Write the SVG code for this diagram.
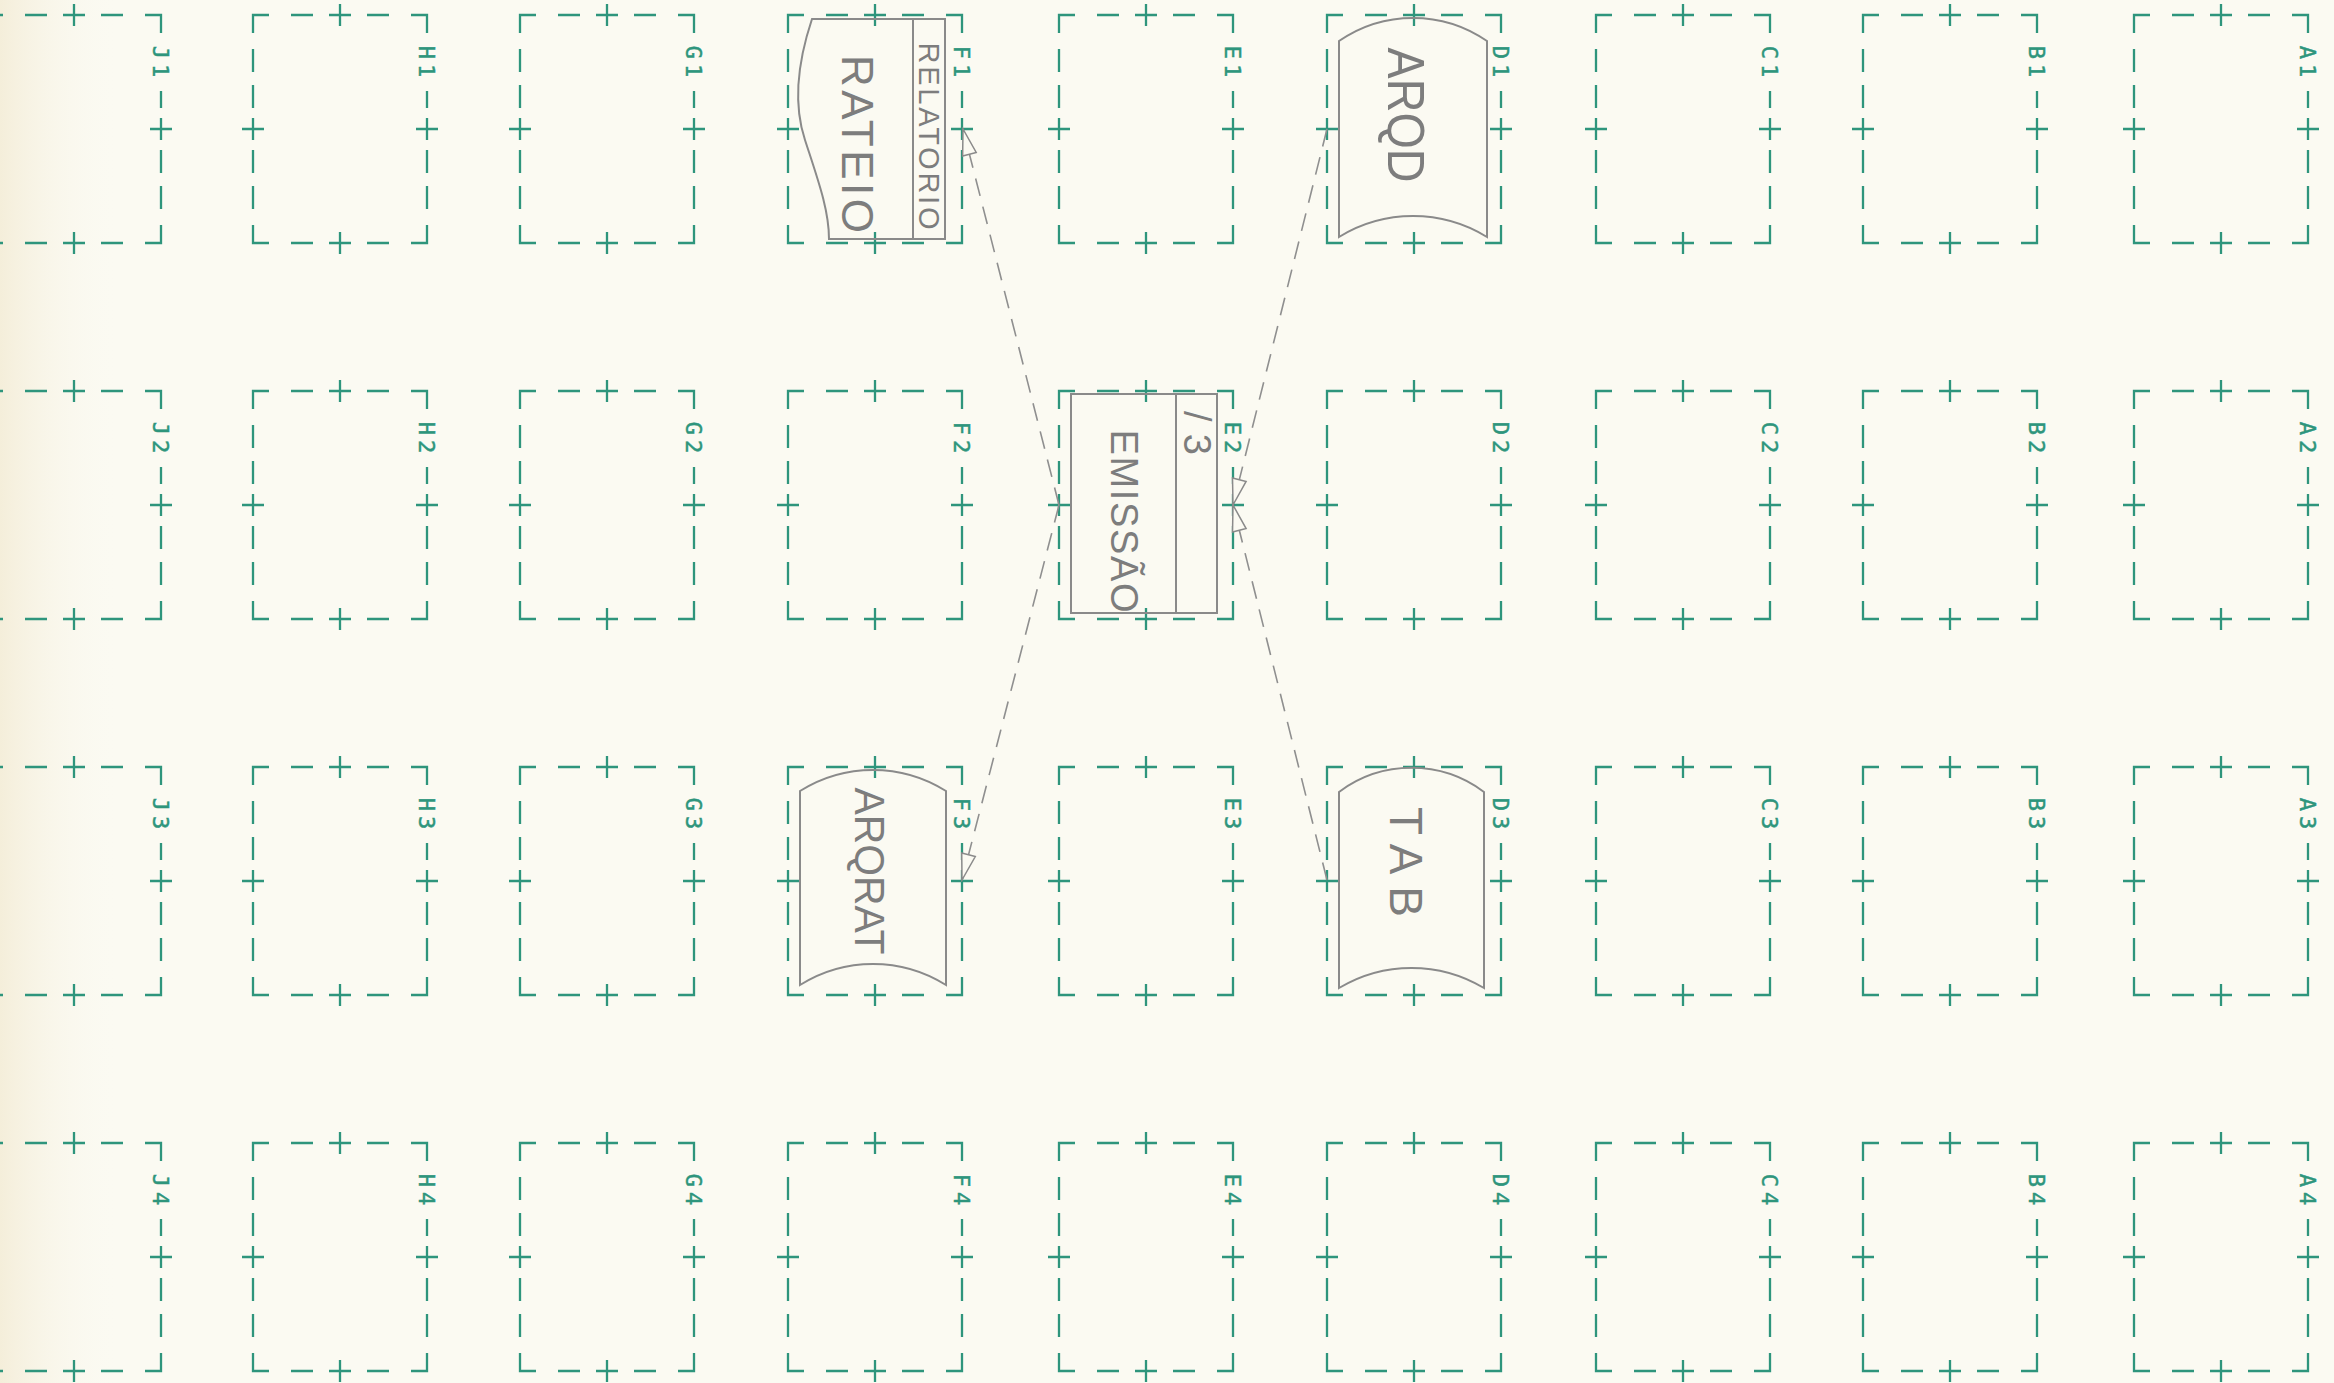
<svg xmlns="http://www.w3.org/2000/svg" xmlns:xlink="http://www.w3.org/1999/xlink" width="2334" height="1383" viewBox="0 0 2334 1383">
<style>
.fr{fill:none;stroke:#2e957c;stroke-width:2.3}
.lbl{font-family:"DejaVu Sans Mono","Liberation Mono",monospace;font-size:22px;fill:#2e957c;stroke:#2e957c;stroke-width:0.5;text-anchor:middle;letter-spacing:5px}
.pen{fill:none;stroke:#8a8a8a;stroke-width:2}
.ptx{font-family:"Liberation Sans","DejaVu Sans",sans-serif;fill:#7d7d7d;text-anchor:middle}
.con{fill:none;stroke:#8f8f8f;stroke-width:1.6;stroke-dasharray:18 11;marker-end:url(#ah)}
</style>
<defs>
<linearGradient id="stain" x1="0" y1="0" x2="1" y2="0">
<stop offset="0" stop-color="#efe4c6" stop-opacity="0.55"/>
<stop offset="1" stop-color="#fbfaf2" stop-opacity="0"/>
</linearGradient>
<path id="fr" class="fr" d="M0,18V0H16 M38,0H60 M76,0H98 M87,-11V11 M114,0H136 M158,0H174V18 M0,34V57 M0,70V93 M0,103V125 M-11,114H11 M0,135V158 M0,171V194 M0,210V228H16 M38,228H60 M76,228H98 M87,217V239 M114,228H136 M158,228H174V210 M174,76V93 M174,103V125 M163,114H185 M174,135V158 M174,171V194"/>
<marker id="ah" markerUnits="userSpaceOnUse" viewBox="-29 -10 31 20" markerWidth="31" markerHeight="20" refX="0" refY="0" orient="auto">
<path d="M0,0 L-26,-7 L-26,7 Z" fill="#fbfaf2" stroke="#8a8a8a" stroke-width="1.5"/>
</marker>
</defs>
<rect x="0" y="0" width="2334" height="1383" fill="#fbfaf2"/>
<rect x="0" y="0" width="120" height="1383" fill="url(#stain)"/>

<g id="grid">
<g id="J1" transform="translate(-13,15)"><use href="#fr"/><text class="lbl" transform="translate(174,47) rotate(90)" x="2" y="8">J1</text></g>
<g id="H1" transform="translate(253,15)"><use href="#fr"/><text class="lbl" transform="translate(174,47) rotate(90)" x="2" y="8">H1</text></g>
<g id="G1" transform="translate(520,15)"><use href="#fr"/><text class="lbl" transform="translate(174,47) rotate(90)" x="2" y="8">G1</text></g>
<g id="F1" transform="translate(788,15)"><use href="#fr"/><text class="lbl" transform="translate(174,47) rotate(90)" x="2" y="8">F1</text></g>
<g id="E1" transform="translate(1059,15)"><use href="#fr"/><text class="lbl" transform="translate(174,47) rotate(90)" x="2" y="8">E1</text></g>
<g id="D1" transform="translate(1327,15)"><use href="#fr"/><text class="lbl" transform="translate(174,47) rotate(90)" x="2" y="8">D1</text></g>
<g id="C1" transform="translate(1596,15)"><use href="#fr"/><text class="lbl" transform="translate(174,47) rotate(90)" x="2" y="8">C1</text></g>
<g id="B1" transform="translate(1863,15)"><use href="#fr"/><text class="lbl" transform="translate(174,47) rotate(90)" x="2" y="8">B1</text></g>
<g id="A1" transform="translate(2134,15)"><use href="#fr"/><text class="lbl" transform="translate(174,47) rotate(90)" x="2" y="8">A1</text></g>

<g id="J2" transform="translate(-13,391)"><use href="#fr"/><text class="lbl" transform="translate(174,47) rotate(90)" x="2" y="8">J2</text></g>
<g id="H2" transform="translate(253,391)"><use href="#fr"/><text class="lbl" transform="translate(174,47) rotate(90)" x="2" y="8">H2</text></g>
<g id="G2" transform="translate(520,391)"><use href="#fr"/><text class="lbl" transform="translate(174,47) rotate(90)" x="2" y="8">G2</text></g>
<g id="F2" transform="translate(788,391)"><use href="#fr"/><text class="lbl" transform="translate(174,47) rotate(90)" x="2" y="8">F2</text></g>
<g id="E2" transform="translate(1059,391)"><use href="#fr"/><text class="lbl" transform="translate(174,47) rotate(90)" x="2" y="8">E2</text></g>
<g id="D2" transform="translate(1327,391)"><use href="#fr"/><text class="lbl" transform="translate(174,47) rotate(90)" x="2" y="8">D2</text></g>
<g id="C2" transform="translate(1596,391)"><use href="#fr"/><text class="lbl" transform="translate(174,47) rotate(90)" x="2" y="8">C2</text></g>
<g id="B2" transform="translate(1863,391)"><use href="#fr"/><text class="lbl" transform="translate(174,47) rotate(90)" x="2" y="8">B2</text></g>
<g id="A2" transform="translate(2134,391)"><use href="#fr"/><text class="lbl" transform="translate(174,47) rotate(90)" x="2" y="8">A2</text></g>

<g id="J3" transform="translate(-13,767)"><use href="#fr"/><text class="lbl" transform="translate(174,47) rotate(90)" x="2" y="8">J3</text></g>
<g id="H3" transform="translate(253,767)"><use href="#fr"/><text class="lbl" transform="translate(174,47) rotate(90)" x="2" y="8">H3</text></g>
<g id="G3" transform="translate(520,767)"><use href="#fr"/><text class="lbl" transform="translate(174,47) rotate(90)" x="2" y="8">G3</text></g>
<g id="F3" transform="translate(788,767)"><use href="#fr"/><text class="lbl" transform="translate(174,47) rotate(90)" x="2" y="8">F3</text></g>
<g id="E3" transform="translate(1059,767)"><use href="#fr"/><text class="lbl" transform="translate(174,47) rotate(90)" x="2" y="8">E3</text></g>
<g id="D3" transform="translate(1327,767)"><use href="#fr"/><text class="lbl" transform="translate(174,47) rotate(90)" x="2" y="8">D3</text></g>
<g id="C3" transform="translate(1596,767)"><use href="#fr"/><text class="lbl" transform="translate(174,47) rotate(90)" x="2" y="8">C3</text></g>
<g id="B3" transform="translate(1863,767)"><use href="#fr"/><text class="lbl" transform="translate(174,47) rotate(90)" x="2" y="8">B3</text></g>
<g id="A3" transform="translate(2134,767)"><use href="#fr"/><text class="lbl" transform="translate(174,47) rotate(90)" x="2" y="8">A3</text></g>

<g id="J4" transform="translate(-13,1143)"><use href="#fr"/><text class="lbl" transform="translate(174,47) rotate(90)" x="2" y="8">J4</text></g>
<g id="H4" transform="translate(253,1143)"><use href="#fr"/><text class="lbl" transform="translate(174,47) rotate(90)" x="2" y="8">H4</text></g>
<g id="G4" transform="translate(520,1143)"><use href="#fr"/><text class="lbl" transform="translate(174,47) rotate(90)" x="2" y="8">G4</text></g>
<g id="F4" transform="translate(788,1143)"><use href="#fr"/><text class="lbl" transform="translate(174,47) rotate(90)" x="2" y="8">F4</text></g>
<g id="E4" transform="translate(1059,1143)"><use href="#fr"/><text class="lbl" transform="translate(174,47) rotate(90)" x="2" y="8">E4</text></g>
<g id="D4" transform="translate(1327,1143)"><use href="#fr"/><text class="lbl" transform="translate(174,47) rotate(90)" x="2" y="8">D4</text></g>
<g id="C4" transform="translate(1596,1143)"><use href="#fr"/><text class="lbl" transform="translate(174,47) rotate(90)" x="2" y="8">C4</text></g>
<g id="B4" transform="translate(1863,1143)"><use href="#fr"/><text class="lbl" transform="translate(174,47) rotate(90)" x="2" y="8">B4</text></g>
<g id="A4" transform="translate(2134,1143)"><use href="#fr"/><text class="lbl" transform="translate(174,47) rotate(90)" x="2" y="8">A4</text></g>
</g>

<g id="node-relatorio-rateio">
<path class="pen" d="M945,19 H812 C795,70 795,110 805,140 C818,180 829,210 829,239 H945 Z"/>
<path class="pen" d="M913,19 V239"/>
<text class="ptx" font-size="44" transform="translate(858,144) rotate(90)" y="16" textLength="178">RATEIO</text>
<text class="ptx" font-size="29" transform="translate(929,136) rotate(90)" y="10" textLength="187">RELATORIO</text>
</g>

<g id="node-arqd">
<path class="pen" d="M1339,41 A130,130 0 0 1 1487,41 V237 A141,141 0 0 0 1339,237 Z"/>
<text class="ptx" font-size="52" transform="translate(1407,115) rotate(90)" y="19" textLength="135" lengthAdjust="spacingAndGlyphs">ARQD</text>
</g>

<g id="node-emissao">
<rect class="pen" x="1071" y="394" width="146" height="219"/>
<path class="pen" d="M1176,394 V613"/>
<text class="ptx" font-size="38" transform="translate(1125,521) rotate(90)" y="14" textLength="183">EMISSÃO</text>
<text class="ptx" font-size="38" transform="translate(1197,433) rotate(90)" y="13" textLength="44">/3</text>
</g>

<g id="node-arqrat">
<path class="pen" d="M800,791 A137,137 0 0 1 946,791 V985 A137,137 0 0 0 800,985 Z"/>
<text class="ptx" font-size="43" transform="translate(870,871) rotate(90)" y="15" textLength="167" lengthAdjust="spacingAndGlyphs">ARQRAT</text>
</g>

<g id="node-tab">
<path class="pen" d="M1339,792 A121,121 0 0 1 1484,792 V988 A141,141 0 0 0 1339,988 Z"/>
<text class="ptx" font-size="46" transform="translate(1407,862) rotate(90)" y="17" textLength="110">TAB</text>
</g>

<g id="connectors">
<path class="con" d="M1059,505 L963,129"/>
<path class="con" d="M1059,505 L962,880"/>
<path class="con" d="M1327,129 L1233,505"/>
<path class="con" d="M1327,880 L1233,505"/>
</g>
</svg>
